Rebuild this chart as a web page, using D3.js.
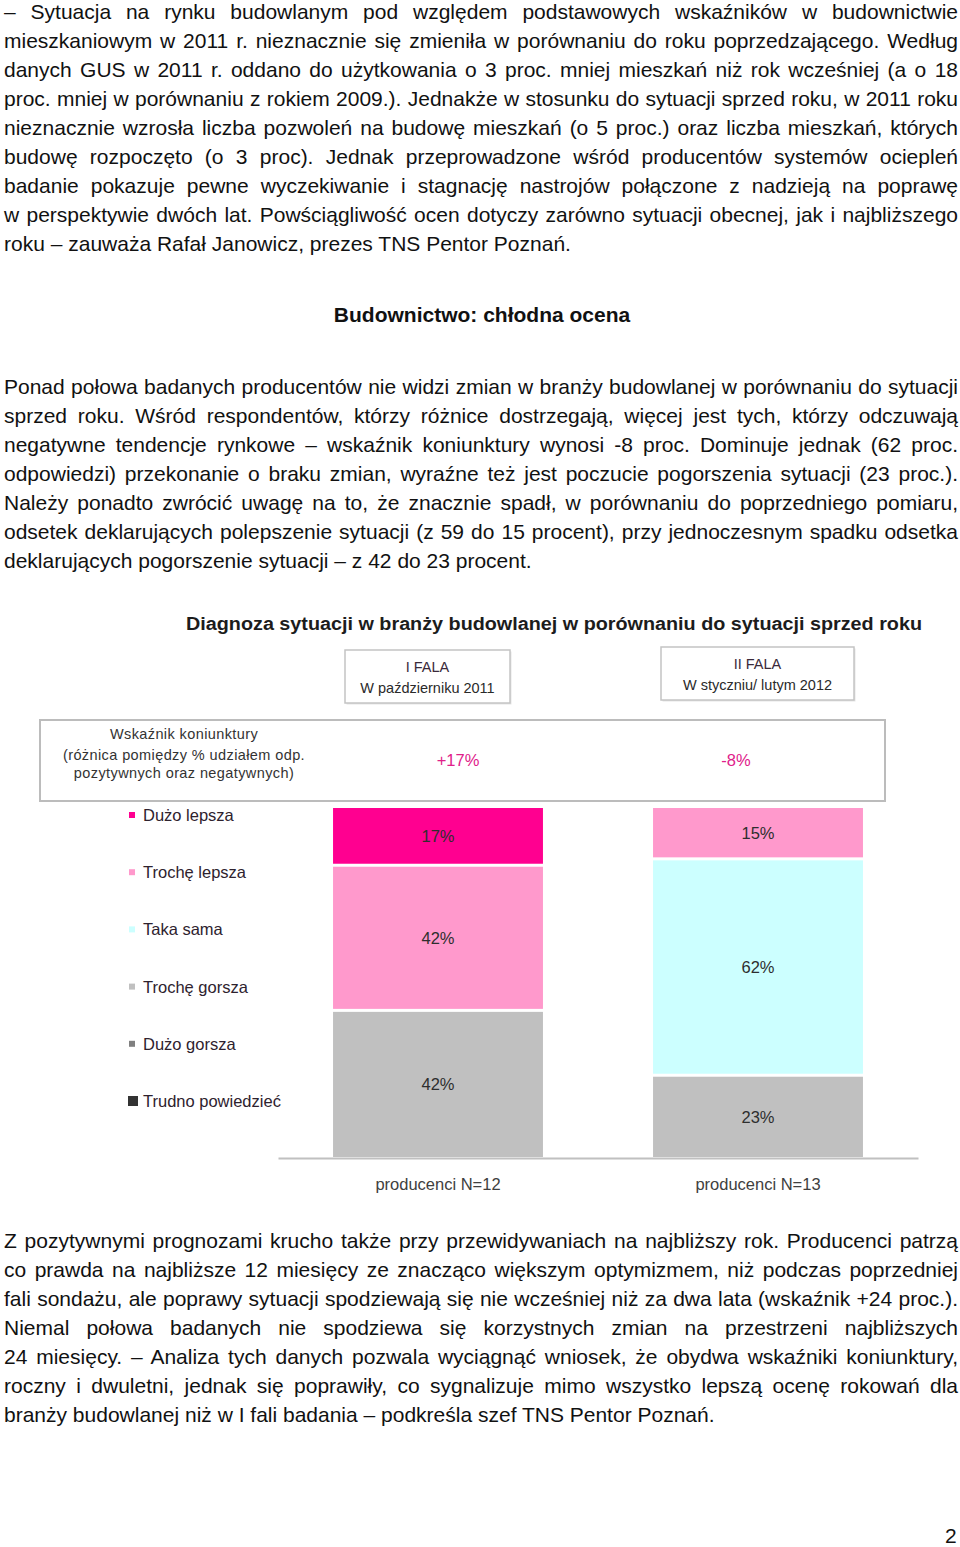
<!DOCTYPE html>
<html>
<head>
<meta charset="utf-8">
<script src="https://cdn.jsdelivr.net/npm/d3@7"></script>
<style>
  body { margin: 0; background: #fff; }
  #page { position: relative; width: 960px; height: 1547px; overflow: hidden; font-family: "Liberation Sans", Arial, sans-serif; color: #111; }
  .line { position: absolute; left: 4px; white-space: nowrap; font-size: 21px; line-height: 29px; height: 29px; }
  .heading { position: absolute; left: 0; width: 964px; text-align: center; font-weight: bold; font-size: 21px; line-height: 29px; }
  .pageno { position: absolute; left: 945px; top: 1527px; font-size: 21px; line-height: 18px; height: 18px; }
  svg { position: absolute; left: 0; top: 0; }
  svg text { font-family: "Liberation Sans", Arial, sans-serif; }
</style>
</head>
<body>
<div id="page"></div>
<script>
// ---- text of the page ----
var para1 = [
  "– Sytuacja na rynku budowlanym pod względem podstawowych wskaźników w budownictwie",
  "mieszkaniowym w 2011 r. nieznacznie się zmieniła w porównaniu do roku poprzedzającego. Według",
  "danych GUS w 2011 r. oddano do użytkowania o 3 proc. mniej mieszkań niż rok wcześniej (a o 18",
  "proc. mniej w porównaniu z rokiem 2009.). Jednakże w stosunku do sytuacji sprzed roku, w 2011 roku",
  "nieznacznie wzrosła liczba pozwoleń na budowę mieszkań (o 5 proc.) oraz liczba mieszkań, których",
  "budowę rozpoczęto (o 3 proc). Jednak przeprowadzone wśród producentów systemów ociepleń",
  "badanie pokazuje pewne wyczekiwanie i stagnację nastrojów połączone z nadzieją na poprawę",
  "w perspektywie dwóch lat. Powściągliwość ocen dotyczy zarówno sytuacji obecnej, jak i najbliższego",
  "roku – zauważa Rafał Janowicz, prezes TNS Pentor Poznań."
];
var heading = "Budownictwo: chłodna ocena";
var para2 = [
  "Ponad połowa badanych producentów nie widzi zmian w branży budowlanej w porównaniu do sytuacji",
  "sprzed roku. Wśród respondentów, którzy różnice dostrzegają, więcej jest tych, którzy odczuwają",
  "negatywne tendencje rynkowe – wskaźnik koniunktury wynosi -8 proc. Dominuje jednak (62 proc.",
  "odpowiedzi) przekonanie o braku zmian, wyraźne też jest poczucie pogorszenia sytuacji (23 proc.).",
  "Należy ponadto zwrócić uwagę na to, że znacznie spadł, w porównaniu do poprzedniego pomiaru,",
  "odsetek deklarujących polepszenie sytuacji (z 59 do 15 procent), przy jednoczesnym spadku odsetka",
  "deklarujących pogorszenie sytuacji – z 42 do 23 procent."
];
var para3 = [
  "Z pozytywnymi prognozami krucho także przy przewidywaniach na najbliższy rok. Producenci patrzą",
  "co prawda na najbliższe 12 miesięcy ze znacząco większym optymizmem, niż podczas poprzedniej",
  "fali sondażu, ale poprawy sytuacji spodziewają się nie wcześniej niż za dwa lata (wskaźnik +24 proc.).",
  "Niemal połowa badanych nie spodziewa się korzystnych zmian na przestrzeni najbliższych",
  "24 miesięcy. – Analiza tych danych pozwala wyciągnąć wniosek, że obydwa wskaźniki koniunktury,",
  "roczny i dwuletni, jednak się poprawiły, co sygnalizuje mimo wszystko lepszą ocenę rokowań dla",
  "branży budowlanej niż w I fali badania – podkreśla szef TNS Pentor Poznań."
];

// ---- chart data ----
var chartTitle = "Diagnoza sytuacji w branży budowlanej w porównaniu do sytuacji sprzed roku";
var groups = ["producenci N=12", "producenci N=13"];
var waveNames = ["I FALA", "II FALA"];
var waveDates = ["W październiku 2011", "W styczniu/ lutym 2012"];
var indicatorLabel = ["Wskaźnik koniunktury", "(różnica pomiędzy % udziałem odp.", "pozytywnych oraz negatywnych)"];
var indicatorValues = ["+17%", "-8%"];
var categories = ["Dużo lepsza", "Trochę lepsza", "Taka sama", "Trochę gorsza", "Dużo gorsza", "Trudno powiedzieć"];
var colors = ["#ff0090", "#ff99cc", "#ccffff", "#c0c0c0", "#808080", "#333333"];
var duzoLepsza = [17, 0];
var trocheLepsza = [42, 15];
var takaSama = [0, 62];
var trocheGorsza = [42, 23];
var duzoGorsza = [0, 0];
var trudnoPowiedziec = [0, 0];

var page = d3.select("#page");
var textW = 954;

function drawPara(lines, firstY) {
  lines.forEach(function(t, i) {
    var div = page.append("div").attr("class", "line")
      .style("top", (firstY + i * 29 - 15.5) + "px");
    var span = div.append("span").text(t);
    if (i < lines.length - 1) {
      var w = span.node().getBoundingClientRect().width;
      var gaps = t.split(" ").length - 1;
      span.style("word-spacing", ((textW - w) / gaps) + "px");
    }
  });
}

drawPara(para1, 12);
page.append("div").attr("class", "heading").style("top", (315 - 15.5) + "px").text(heading);
drawPara(para2, 387);
drawPara(para3, 1241);
page.append("div").attr("class", "pageno").text("2");

// ---- chart ----
var svg = page.append("svg").attr("width", 960).attr("height", 1547);

svg.append("text")
  .attr("x", 554).attr("y", 630)
  .attr("text-anchor", "middle")
  .attr("font-weight", "bold").attr("font-size", 18).attr("fill", "#1c1c1c")
  .attr("textLength", 736).attr("lengthAdjust", "spacingAndGlyphs")
  .text(chartTitle);

// wave boxes
var waveBoxes = [{x: 345, y: 650, w: 165, h: 53}, {x: 661, y: 647, w: 193, h: 53}];
waveBoxes.forEach(function(b, i) {
  svg.append("rect").attr("x", b.x + 1.5).attr("y", b.y + 1.5).attr("width", b.w).attr("height", b.h)
    .attr("fill", "#e6e6e6");
  svg.append("rect").attr("x", b.x).attr("y", b.y).attr("width", b.w).attr("height", b.h)
    .attr("fill", "#fff").attr("stroke", "#c4c4c4").attr("stroke-width", 1.5);
  svg.append("text").attr("x", b.x + b.w / 2).attr("y", b.y + 22)
    .attr("text-anchor", "middle").attr("font-size", 14.5).attr("fill", "#3a2a3a").text(waveNames[i]);
  svg.append("text").attr("x", b.x + b.w / 2).attr("y", b.y + 43)
    .attr("text-anchor", "middle").attr("font-size", 14.5).attr("fill", "#2a2a2a").text(waveDates[i]);
});

// indicator box
svg.append("rect").attr("x", 40).attr("y", 720).attr("width", 845).attr("height", 81)
  .attr("fill", "#fff").attr("stroke", "#bcbcbc").attr("stroke-width", 2);
svg.append("g").selectAll("text").data(indicatorLabel).join("text")
  .attr("x", 184).attr("y", function(d, i) { return [739, 760, 778][i]; })
  .attr("text-anchor", "middle").attr("font-size", 14.5).attr("fill", "#333")
  .attr("letter-spacing", 0.4)
  .text(function(d) { return d; });
svg.append("g").selectAll("text").data(indicatorValues).join("text")
  .attr("x", function(d, i) { return [458, 736][i]; }).attr("y", 766)
  .attr("text-anchor", "middle").attr("font-size", 16.5).attr("fill", "#e0208a")
  .text(function(d) { return d; });

// stacked bars
var table = groups.map(function(g, i) {
  return {
    group: g,
    "Dużo lepsza": duzoLepsza[i],
    "Trochę lepsza": trocheLepsza[i],
    "Taka sama": takaSama[i],
    "Trochę gorsza": trocheGorsza[i],
    "Dużo gorsza": duzoGorsza[i],
    "Trudno powiedzieć": trudnoPowiedziec[i]
  };
});
var keys = categories.slice().reverse();
var series = d3.stack().keys(keys).offset(d3.stackOffsetExpand)(table);
var color = d3.scaleOrdinal().domain(categories).range(colors);

var x = d3.scaleBand().domain(groups).range([278, 918]).padding(0);
var y = d3.scaleLinear().domain([0, 1]).range([1157, 808]);
var barW = x.bandwidth() * 0.656;
var gap = 3;

var layers = svg.append("g").selectAll("g").data(series).join("g")
  .attr("fill", function(d) { return color(d.key); });

layers.selectAll("rect")
  .data(function(d) { return d.filter(function(s) { return s[1] - s[0] > 0; }); })
  .join("rect")
  .attr("x", function(d) { return x(d.data.group) + (x.bandwidth() - barW) / 2; })
  .attr("y", function(d) { return y(d[1]); })
  .attr("width", barW)
  .attr("height", function(d) { return y(d[0]) - y(d[1]) - (d[0] > 0 ? gap : 0); });

series.forEach(function(s) {
  s.forEach(function(d) {
    var v = d.data[s.key];
    if (!v) return;
    var top = y(d[1]), bot = y(d[0]) - (d[0] > 0 ? gap : 0);
    svg.append("text")
      .attr("x", x(d.data.group) + x.bandwidth() / 2)
      .attr("y", (top + bot) / 2 + 6)
      .attr("text-anchor", "middle").attr("font-size", 16.5).attr("fill", "#2e2e2e")
      .text(v + "%");
  });
});

// x axis
var xAxis = svg.append("g").attr("transform", "translate(0,1158)")
  .call(d3.axisBottom(x).tickSize(0).tickSizeOuter(0).tickPadding(20));
xAxis.select(".domain").attr("stroke", "#c0c0c0").attr("stroke-width", 2);
xAxis.selectAll("text").attr("font-size", 16.5).attr("fill", "#404040")
  .attr("font-family", "'Liberation Sans', Arial, sans-serif");

// legend
var ly = d3.scalePoint().domain(categories).range([815, 1101]);
var legend = svg.append("g").selectAll("g").data(categories).join("g")
  .attr("transform", function(d) { return "translate(0," + ly(d) + ")"; });
legend.append("rect")
  .attr("x", function(d, i) { return i === 5 ? 128 : 129; })
  .attr("y", function(d, i) { return i === 5 ? -5 : -3; })
  .attr("width", function(d, i) { return i === 5 ? 10 : 6; })
  .attr("height", function(d, i) { return i === 5 ? 10 : 6; })
  .attr("fill", function(d) { return color(d); });
legend.append("text")
  .attr("x", 143).attr("y", 6)
  .attr("font-size", 16.5).attr("fill", "#2e222e")
  .text(function(d) { return d; });
</script>
</body>
</html>
